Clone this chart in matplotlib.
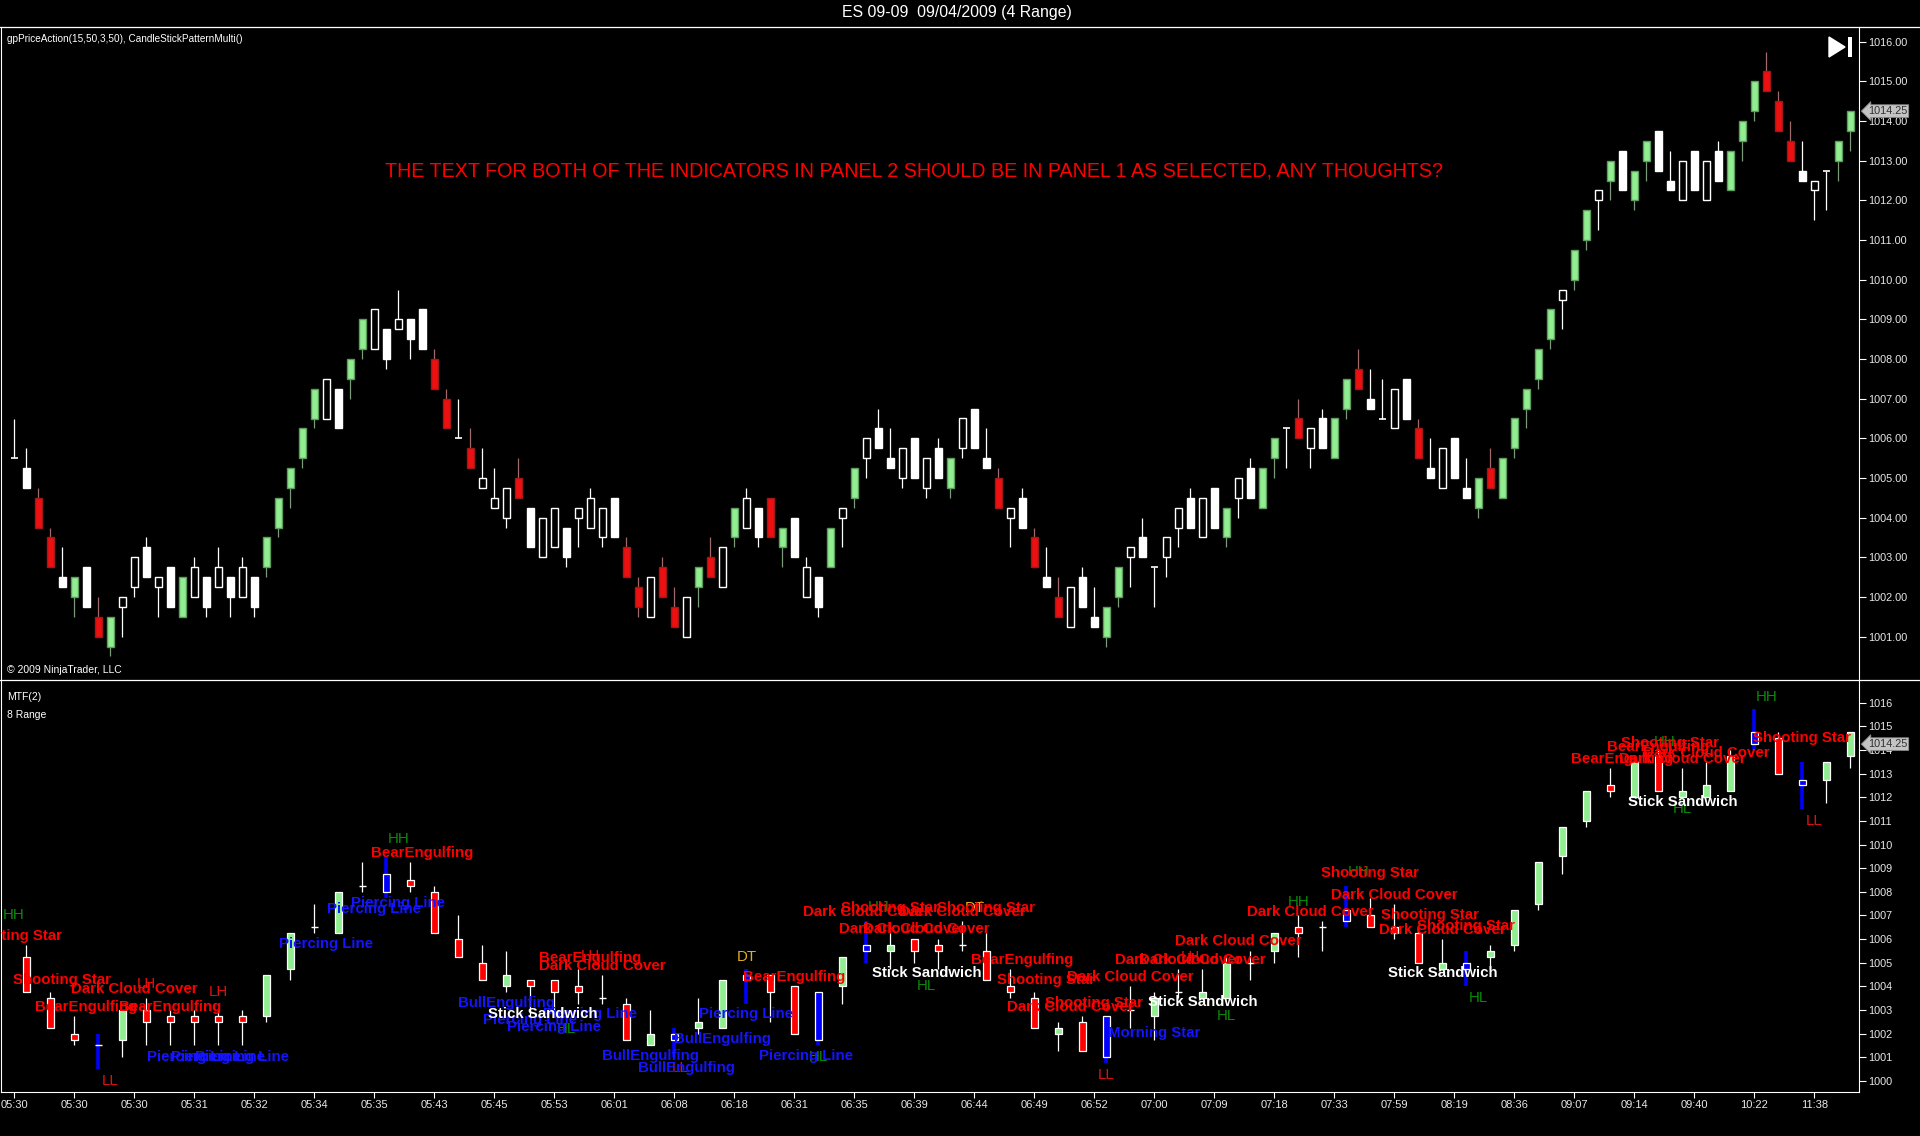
import matplotlib
matplotlib.use("Agg")
import matplotlib.pyplot as plt
from matplotlib.lines import Line2D
from matplotlib.patches import Polygon, Rectangle
from matplotlib.ticker import FormatStrFormatter

plt.rcParams['font.family'] = ['Liberation Sans', 'DejaVu Sans']

W, H, DPI = 1920, 1136, 100

# ---------------- panel 1 : 4 range bars ----------------
p1_open = [
    1005.5, 1005.25, 1004.5, 1003.5, 1002.5, 1002.0, 1002.75, 1001.5, 1000.75, 1001.75,
    1002.25, 1003.25, 1002.25, 1002.75, 1001.5, 1002.0, 1002.5, 1002.25, 1002.5, 1002.0,
    1002.5, 1002.75, 1003.75, 1004.75, 1005.5, 1006.5, 1006.5, 1007.25, 1007.5, 1008.25,
    1008.25, 1008.75, 1008.75, 1009.0, 1009.25, 1008.0, 1007.0, 1006.0, 1005.75, 1004.75,
    1004.25, 1004.0, 1005.0, 1004.25, 1003.0, 1003.25, 1003.75, 1004.0, 1003.75, 1003.5,
    1004.5, 1003.25, 1002.25, 1001.5, 1002.75, 1001.75, 1001.0, 1002.25, 1003.0, 1002.25,
    1003.5, 1003.75, 1004.25, 1004.5, 1003.25, 1004.0, 1002.0, 1002.5, 1002.75, 1004.0,
    1004.5, 1005.5, 1006.25, 1005.5, 1005.0, 1006.0, 1004.75, 1005.75, 1004.75, 1005.75,
    1006.75, 1005.5, 1005.0, 1004.0, 1004.5, 1003.5, 1002.5, 1002.0, 1001.25, 1002.5,
    1001.5, 1001.0, 1002.0, 1003.0, 1003.5, 1002.75, 1003.0, 1003.75, 1004.5, 1003.5,
    1004.75, 1003.5, 1004.5, 1005.25, 1004.25, 1005.5, 1006.25, 1006.5, 1005.75, 1006.5,
    1005.5, 1006.75, 1007.75, 1007.0, 1006.5, 1006.25, 1007.5, 1006.25, 1005.25, 1004.75,
    1006.0, 1004.75, 1004.25, 1005.25, 1004.5, 1005.75, 1006.75, 1007.5, 1008.5, 1009.5,
    1010.0, 1011.0, 1012.0, 1012.5, 1013.25, 1012.0, 1013.0, 1013.75, 1012.5, 1012.0,
    1013.25, 1012.0, 1013.25, 1012.25, 1013.5, 1014.25, 1015.25, 1014.5, 1013.5, 1012.75,
    1012.25, 1012.75, 1013.0, 1013.75]
p1_high = [
    1006.5, 1005.75, 1004.75, 1003.75, 1003.25, 1002.5, 1002.75, 1002.0, 1001.5, 1002.0,
    1003.0, 1003.5, 1002.5, 1002.75, 1002.5, 1003.0, 1002.5, 1003.25, 1002.5, 1003.0,
    1002.5, 1003.5, 1004.5, 1005.25, 1006.25, 1007.25, 1007.5, 1007.25, 1008.0, 1009.0,
    1009.25, 1008.75, 1009.75, 1009.0, 1009.25, 1008.25, 1007.25, 1007.0, 1006.25, 1005.75,
    1005.25, 1004.75, 1005.5, 1004.25, 1004.0, 1004.25, 1003.75, 1004.25, 1004.75, 1004.25,
    1004.5, 1003.5, 1002.5, 1002.5, 1003.0, 1002.25, 1002.0, 1002.75, 1003.5, 1003.25,
    1004.25, 1004.75, 1004.25, 1004.5, 1003.75, 1004.0, 1003.0, 1002.5, 1003.75, 1004.25,
    1005.25, 1006.0, 1006.75, 1006.25, 1005.75, 1006.0, 1005.5, 1006.0, 1005.5, 1006.5,
    1006.75, 1006.25, 1005.25, 1004.25, 1004.75, 1003.75, 1003.25, 1002.5, 1002.25, 1002.75,
    1002.25, 1001.75, 1002.75, 1003.25, 1004.0, 1002.75, 1003.5, 1004.25, 1004.75, 1004.5,
    1004.75, 1004.25, 1005.0, 1005.5, 1005.25, 1006.0, 1006.25, 1007.0, 1006.25, 1006.75,
    1006.5, 1007.5, 1008.25, 1007.75, 1007.5, 1007.25, 1007.5, 1006.5, 1006.0, 1005.75,
    1006.0, 1005.5, 1005.0, 1005.75, 1005.5, 1006.5, 1007.25, 1008.25, 1009.25, 1009.75,
    1010.75, 1011.75, 1012.25, 1013.0, 1013.25, 1012.75, 1013.5, 1013.75, 1013.25, 1013.0,
    1013.25, 1013.0, 1013.5, 1013.25, 1014.0, 1015.0, 1015.75, 1014.75, 1014.0, 1013.5,
    1012.5, 1012.75, 1013.5, 1014.25]
p1_low = [
    1005.5, 1004.75, 1003.75, 1002.75, 1002.25, 1001.5, 1001.75, 1001.0, 1000.5, 1001.0,
    1002.0, 1002.5, 1001.5, 1001.75, 1001.5, 1002.0, 1001.5, 1002.25, 1001.5, 1002.0,
    1001.5, 1002.5, 1003.5, 1004.25, 1005.25, 1006.25, 1006.5, 1006.25, 1007.0, 1008.0,
    1008.25, 1007.75, 1008.75, 1008.0, 1008.25, 1007.25, 1006.25, 1006.0, 1005.25, 1004.75,
    1004.25, 1003.75, 1004.5, 1003.25, 1003.0, 1003.25, 1002.75, 1003.25, 1003.75, 1003.25,
    1003.5, 1002.5, 1001.5, 1001.5, 1002.0, 1001.25, 1001.0, 1001.75, 1002.5, 1002.25,
    1003.25, 1003.75, 1003.25, 1003.5, 1002.75, 1003.0, 1002.0, 1001.5, 1002.75, 1003.25,
    1004.25, 1005.0, 1005.75, 1005.25, 1004.75, 1005.0, 1004.5, 1005.0, 1004.5, 1005.5,
    1005.75, 1005.25, 1004.25, 1003.25, 1003.75, 1002.75, 1002.25, 1001.5, 1001.25, 1001.75,
    1001.25, 1000.75, 1001.75, 1002.25, 1003.0, 1001.75, 1002.5, 1003.25, 1003.75, 1003.5,
    1003.75, 1003.25, 1004.0, 1004.5, 1004.25, 1005.0, 1005.25, 1006.0, 1005.25, 1005.75,
    1005.5, 1006.5, 1007.25, 1006.75, 1006.5, 1006.25, 1006.5, 1005.5, 1005.0, 1004.75,
    1005.0, 1004.5, 1004.0, 1004.75, 1004.5, 1005.5, 1006.25, 1007.25, 1008.25, 1008.75,
    1009.75, 1010.75, 1011.25, 1012.0, 1012.25, 1011.75, 1012.5, 1012.75, 1012.25, 1012.0,
    1012.25, 1012.0, 1012.5, 1012.25, 1013.0, 1014.0, 1014.75, 1013.75, 1013.0, 1012.5,
    1011.5, 1011.75, 1012.5, 1013.25]
p1_close = [
    1005.5, 1004.75, 1003.75, 1002.75, 1002.25, 1002.5, 1001.75, 1001.0, 1001.5, 1002.0,
    1003.0, 1002.5, 1002.5, 1001.75, 1002.5, 1002.75, 1001.75, 1002.75, 1002.0, 1002.75,
    1001.75, 1003.5, 1004.5, 1005.25, 1006.25, 1007.25, 1007.5, 1006.25, 1008.0, 1009.0,
    1009.25, 1008.0, 1009.0, 1008.5, 1008.25, 1007.25, 1006.25, 1006.0, 1005.25, 1005.0,
    1004.5, 1004.75, 1004.5, 1003.25, 1004.0, 1004.25, 1003.0, 1004.25, 1004.5, 1004.25,
    1003.5, 1002.5, 1001.75, 1002.5, 1002.0, 1001.25, 1002.0, 1002.75, 1002.5, 1003.25,
    1004.25, 1004.5, 1003.5, 1003.5, 1003.75, 1003.0, 1002.75, 1001.75, 1003.75, 1004.25,
    1005.25, 1006.0, 1005.75, 1005.25, 1005.75, 1005.0, 1005.5, 1005.0, 1005.5, 1006.5,
    1005.75, 1005.25, 1004.25, 1004.25, 1003.75, 1002.75, 1002.25, 1001.5, 1002.25, 1001.75,
    1001.25, 1001.75, 1002.75, 1003.25, 1003.0, 1002.75, 1003.5, 1004.25, 1003.75, 1004.5,
    1003.75, 1004.25, 1005.0, 1004.5, 1005.25, 1006.0, 1006.25, 1006.0, 1006.25, 1005.75,
    1006.5, 1007.5, 1007.25, 1006.75, 1006.5, 1007.25, 1006.5, 1005.5, 1005.0, 1005.75,
    1005.0, 1004.5, 1005.0, 1004.75, 1005.5, 1006.5, 1007.25, 1008.25, 1009.25, 1009.75,
    1010.75, 1011.75, 1012.25, 1013.0, 1012.25, 1012.75, 1013.5, 1012.75, 1012.25, 1013.0,
    1012.25, 1013.0, 1012.5, 1013.25, 1014.0, 1015.0, 1014.75, 1013.75, 1013.0, 1012.5,
    1012.5, 1012.75, 1013.5, 1014.25]
# g = green paint, r = red paint, w = plain (white) candle
p1_paint = ("wwrrwgwrgw" "wwwwgwwwww" "wgggggwwgg" "wwwwwrrwrw" "wwrwwwwwww"
            "wrrwrrwgrw" "gwwrgwwwgw" "gwwwwwwwgw" "wwrwwrwrww" "wggwwwwwww"
            "wgwwggwrww" "ggrwwwwrww" "wwgrgggggw" "ggwgwggwww" "wwwgggrrrw" "wwgg")

# ---------------- panel 2 : MTF 8 range bars (every other slot) ----------------
p2_slot = list(range(1, 154, 2))
p2_open = [
    1005.25, 1003.5, 1002.0, 1001.5, 1001.75, 1003.0, 1002.75, 1002.75, 1002.75, 1002.75,
    1002.75, 1004.75, 1006.5, 1006.25, 1008.25, 1008.0, 1008.5, 1008.0, 1006.0, 1005.0,
    1004.0, 1004.25, 1004.25, 1004.0, 1003.5, 1003.25, 1001.5, 1001.75, 1002.25, 1002.25,
    1004.25, 1004.5, 1004.0, 1003.75, 1004.0, 1005.5, 1005.5, 1006.0, 1005.75, 1005.75,
    1005.5, 1004.0, 1003.5, 1002.0, 1002.5, 1001.0, 1003.0, 1002.75, 1003.75, 1003.5,
    1003.5, 1005.0, 1005.5, 1006.5, 1006.5, 1006.75, 1007.0, 1006.5, 1006.25, 1004.75,
    1004.75, 1005.25, 1005.75, 1007.5, 1009.5, 1011.0, 1012.5, 1012.0, 1013.75, 1012.0,
    1012.0, 1012.25, 1014.25, 1014.5, 1012.5, 1012.75, 1013.75]
p2_high = [
    1005.75, 1003.75, 1002.75, 1002.0, 1003.0, 1003.5, 1003.0, 1003.0, 1003.0, 1003.0,
    1004.5, 1006.25, 1007.5, 1008.0, 1009.25, 1009.5, 1009.25, 1008.25, 1007.0, 1005.75,
    1005.5, 1004.25, 1004.25, 1004.75, 1004.5, 1003.5, 1003.0, 1002.25, 1003.5, 1004.25,
    1004.75, 1004.5, 1004.0, 1003.75, 1005.25, 1006.75, 1006.25, 1006.0, 1006.0, 1006.75,
    1006.25, 1004.75, 1003.75, 1002.5, 1002.75, 1002.75, 1004.0, 1003.75, 1004.75, 1004.75,
    1005.25, 1005.5, 1006.25, 1007.0, 1006.75, 1008.25, 1007.75, 1007.5, 1006.5, 1006.0,
    1005.5, 1005.75, 1007.25, 1009.25, 1010.75, 1012.25, 1013.25, 1013.75, 1014.0, 1013.25,
    1013.5, 1014.0, 1015.75, 1014.75, 1013.5, 1013.5, 1014.75]
p2_low = [
    1003.75, 1002.25, 1001.5, 1000.5, 1001.0, 1001.5, 1001.5, 1001.5, 1001.5, 1001.5,
    1002.5, 1004.25, 1006.25, 1006.25, 1008.0, 1007.75, 1008.0, 1006.25, 1005.25, 1004.25,
    1003.75, 1002.75, 1003.0, 1003.25, 1003.25, 1001.75, 1001.5, 1001.0, 1002.0, 1002.25,
    1003.25, 1002.5, 1002.0, 1001.5, 1003.25, 1005.0, 1004.75, 1005.0, 1004.75, 1005.5,
    1004.25, 1003.5, 1002.25, 1001.25, 1001.25, 1000.75, 1002.25, 1001.75, 1003.5, 1003.5,
    1003.5, 1004.25, 1005.0, 1005.25, 1005.5, 1006.5, 1006.5, 1006.0, 1005.0, 1004.75,
    1004.0, 1004.75, 1005.5, 1007.25, 1008.75, 1010.75, 1012.0, 1012.0, 1012.25, 1012.0,
    1012.0, 1012.25, 1014.0, 1013.0, 1011.5, 1011.75, 1013.25]
p2_close = [
    1003.75, 1002.25, 1001.75, 1001.5, 1003.0, 1002.5, 1002.5, 1002.5, 1002.5, 1002.5,
    1004.5, 1006.25, 1006.5, 1008.0, 1008.25, 1008.75, 1008.25, 1006.25, 1005.25, 1004.25,
    1004.5, 1004.0, 1003.75, 1003.75, 1003.5, 1001.75, 1002.0, 1002.0, 1002.5, 1004.25,
    1004.5, 1003.75, 1002.0, 1001.75, 1005.25, 1005.75, 1005.75, 1005.5, 1005.5, 1005.75,
    1004.25, 1003.75, 1002.25, 1002.25, 1001.25, 1002.75, 1003.0, 1003.5, 1003.75, 1003.75,
    1005.0, 1005.0, 1006.25, 1006.25, 1006.5, 1007.25, 1006.5, 1006.25, 1005.0, 1005.0,
    1005.0, 1005.5, 1007.25, 1009.25, 1010.75, 1012.25, 1012.25, 1013.5, 1012.25, 1012.25,
    1012.5, 1013.75, 1014.75, 1013.0, 1012.75, 1013.5, 1014.75]
# b = blue swing bar, w = doji
p2_paint = ("rrrbgrrrrr" "ggwgwbrrrr" "grrrwrgbgg" "brrbgbgrrw" "rrrgrbwgwg"
            "gwgrwbrrrg" "bgggggrgrg" "ggbrbgg")

time_labels = ["05:30", "05:30", "05:30", "05:31", "05:32", "05:34", "05:35", "05:43",
               "05:45", "05:53", "06:01", "06:08", "06:18", "06:31", "06:35", "06:39",
               "06:44", "06:49", "06:52", "07:00", "07:09", "07:18", "07:33", "07:59",
               "08:19", "08:36", "09:07", "09:14", "09:40", "10:22", "11:38"]
last_price = 1014.25

# swing point markers (slot, price, text)
swing_labels = [
    (-0.1, 1007.02, "HH"), (11, 1004.09, "LH"), (17, 1003.78, "LH"), (8, 1000.01, "LL"),
    (32, 1010.23, "HH"), (46, 1002.2, "HL"), (48, 1005.29, "LH"), (55.5, 1000.53, "LL"),
    (61, 1005.26, "DT"), (67, 1001.03, "HL"), (72, 1007.37, "HH"), (80, 1007.3, "DT"),
    (76, 1004.02, "HL"), (91, 1000.25, "LL"), (101, 1002.76, "HL"), (98, 1005.25, "LH"),
    (107, 1007.58, "HH"), (112, 1008.85, "HH"), (122, 1003.5, "HL"), (137.5, 1014.35, "HH"),
    (139, 1011.5, "HL"), (146, 1016.25, "HH"), (150, 1011.01, "LL")]

# candlestick pattern names (slot, price, text)
pattern_labels = [
    (-0.1, 1006.13, "Shooting Star"), (4, 1004.27, "Shooting Star"),
    (10, 1003.89, "Dark Cloud Cover"), (6, 1003.14, "BearEngulfing"),
    (13, 1003.14, "BearEngulfing"), (15, 1001.02, "Piercing Line"),
    (17, 1001.02, "Piercing Line"), (19, 1001.02, "Piercing Line"),
    (26, 1005.79, "Piercing Line"), (30, 1007.26, "Piercing Line"),
    (32, 1007.54, "Piercing Line"), (34, 1009.66, "BearEngulfing"),
    (41, 1003.31, "BullEngulfing"), (43, 1002.58, "Piercing Line"),
    (45, 1002.3, "Piercing Line"), (48, 1002.82, "Piercing Line"),
    (44, 1002.82, "Stick Sandwich"), (48, 1005.22, "BearEngulfing"),
    (49, 1004.88, "Dark Cloud Cover"), (53, 1001.07, "BullEngulfing"),
    (56, 1000.56, "BullEngulfing"), (59, 1001.78, "BullEngulfing"),
    (61, 1002.82, "Piercing Line"), (65, 1004.41, "BearEngulfing"),
    (66, 1001.07, "Piercing Line"), (71, 1007.16, "Dark Cloud Cover"),
    (79, 1007.16, "Dark Cloud Cover"), (73, 1007.3, "Shooting Star"),
    (81, 1007.3, "Shooting Star"), (74, 1006.41, "Dark Cloud Cover"),
    (76, 1006.41, "Dark Cloud Cover"), (76, 1004.55, "Stick Sandwich"),
    (84, 1005.12, "BearEngulfing"), (86, 1004.27, "Shooting Star"),
    (88, 1003.14, "Dark Cloud Cover"), (90, 1003.28, "Shooting Star"),
    (93, 1004.41, "Dark Cloud Cover"), (95, 1002.04, "Morning Star"),
    (99, 1003.33, "Stick Sandwich"), (97, 1005.12, "Dark Cloud Cover"),
    (99, 1005.12, "Dark Cloud Cover"), (102, 1005.9, "Dark Cloud Cover"),
    (108, 1007.15, "Dark Cloud Cover"), (113, 1008.78, "Shooting Star"),
    (115, 1007.87, "Dark Cloud Cover"), (118, 1007.02, "Shooting Star"),
    (119, 1006.39, "Dark Cloud Cover"), (121, 1006.56, "Shooting Star"),
    (119, 1004.55, "Stick Sandwich"), (134, 1013.62, "BearEngulfing"),
    (137, 1014.14, "BearEngulfing"), (138, 1014.28, "Shooting Star"),
    (139, 1013.62, "Dark Cloud Cover"), (141, 1013.89, "Dark Cloud Cover"),
    (139, 1011.81, "Stick Sandwich"), (149, 1014.49, "Shooting Star")]

RED, BLUE, GREEN = '#ff0000', '#1414ff', '#90ee90'
label_colors = {"Shooting Star": RED, "Dark Cloud Cover": RED, "BearEngulfing": RED,
                "Piercing Line": BLUE, "BullEngulfing": BLUE, "Morning Star": BLUE,
                "Stick Sandwich": 'white',
                "HH": '#0a8a0a', "HL": '#0a8a0a', "LH": '#e01010', "LL": '#e01010',
                "DT": '#e0b020'}


def px_box(left, top, right, bottom):
    return [left / W, 1 - bottom / H, (right - left) / W, (bottom - top) / H]


def draw_primary(ax, width=0.54):
    for x, (o, h, l, c, k) in enumerate(zip(p1_open, p1_high, p1_low, p1_close, p1_paint)):
        if k == 'g':
            fill, edge, wick = GREEN, '#5f9a5f', '#7a9a7a'
        elif k == 'r':
            fill, edge, wick = '#ee1010', '#a01818', '#a06a6a'
        else:
            fill = 'black' if c > o else 'white'
            edge, wick = 'white', 'white'
        ax.vlines(x, l, h, color=wick, lw=0.9, zorder=2)
        if o == c:
            ax.hlines(o, x - width / 2, x + width / 2, color='white', lw=1.2, zorder=3)
        else:
            ax.add_patch(Rectangle((x - width / 2, min(o, c)), width, abs(c - o),
                                   facecolor=fill, edgecolor=edge, lw=1.0, zorder=3))


def draw_mtf(ax, width=0.58):
    for x, o, h, l, c, k in zip(p2_slot, p2_open, p2_high, p2_low, p2_close, p2_paint):
        if k == 'b':
            ax.vlines(x, l, h, color='#0000ff', lw=2.6, zorder=2)
        else:
            ax.vlines(x, l, h, color='white', lw=0.9, zorder=2)
        if o == c:
            ax.hlines(o, x - width / 2, x + width / 2, color='white', lw=1.0, zorder=3)
            continue
        fill = {'g': GREEN, 'r': '#ff0000', 'b': '#0000ff'}.get(k, 'white')
        ax.add_patch(Rectangle((x - width / 2, min(o, c)), width, abs(c - o),
                               facecolor=fill, edgecolor='white', lw=0.9, zorder=3))


def style_axis(ax, ylo, yhi, yticks, fmt):
    ax.set_facecolor('black')
    ax.set_xlim(-1.125, 153.71)
    ax.set_ylim(ylo, yhi)
    for side in ('top', 'bottom'):
        ax.spines[side].set_visible(False)
    for side in ('left', 'right'):
        ax.spines[side].set_color('white')
        ax.spines[side].set_linewidth(0.8)
    ax.yaxis.tick_right()
    ax.set_yticks(yticks)
    ax.yaxis.set_major_formatter(FormatStrFormatter(fmt))
    ax.tick_params(axis='y', colors='white', labelcolor='#e8e8e8', labelsize=7.8,
                   length=5, width=0.8, pad=1.5)
    ax.annotate('%.2f' % last_price, xy=(1.0, last_price), xycoords=('axes fraction', 'data'),
                xytext=(9, 0), textcoords='offset pixels', ha='left', va='center',
                fontsize=7.8, color='#303030', annotation_clip=False, zorder=10,
                bbox=dict(boxstyle='larrow,pad=0.12', fc='#c4c4c4', ec='#8a8a8a', lw=0.6))


fig = plt.figure(figsize=(W / DPI, H / DPI), dpi=DPI, facecolor='black')
ax1 = fig.add_axes(px_box(1, 27, 1859, 679.5))
ax2 = fig.add_axes(px_box(1, 681, 1859, 1092))

style_axis(ax1, 999.92, 1016.37, range(1001, 1017), '%.2f')
style_axis(ax2, 999.53, 1016.92, range(1000, 1017), '%d')
ax1.set_xticks([])
ax2.spines['bottom'].set_visible(True)
ax2.spines['bottom'].set_color('white')
ax2.set_xticks(range(0, 5 * len(time_labels), 5))
ax2.set_xticklabels(time_labels)
ax2.tick_params(axis='x', colors='white', labelcolor='#e8e8e8', labelsize=8,
                length=4, width=0.8, pad=2)

draw_primary(ax1)
draw_mtf(ax2)

for x, y, s in swing_labels:
    ax2.text(x, y, s, color=label_colors[s], fontsize=10.8, ha='center', va='center',
             clip_on=True, zorder=5)
for x, y, s in pattern_labels:
    ax2.text(x, y, s, color=label_colors[s], fontsize=10.8, fontweight='bold',
             ha='center', va='center', clip_on=True, zorder=6)

# header, separators, captions
fig.text(957 / W, 1 - 13 / H, "ES 09-09  09/04/2009 (4 Range)", color='white',
         fontsize=11.4, ha='center', va='center')
for y in (27, 679.5):
    fig.add_artist(Line2D([0, 1], [1 - y / H] * 2, transform=fig.transFigure,
                          color='white', lw=0.9))
fig.text(7 / W, 1 - 39 / H, "gpPriceAction(15,50,3,50), CandleStickPatternMulti()",
         color='white', fontsize=7.2, ha='left', va='center')
fig.text(7 / W, 1 - 670 / H, "\u00a9 2009 NinjaTrader, LLC", color='white',
         fontsize=7.5, ha='left', va='center')
fig.text(7 / W, 1 - 697 / H, "MTF(2)", color='white', fontsize=7.5, ha='left', va='center')
fig.text(7 / W, 1 - 715 / H, "8 Range", color='white', fontsize=7.5, ha='left', va='center')
fig.text(914 / W, 1 - 171 / H,
         "THE TEXT FOR BOTH OF THE INDICATORS IN PANEL 2 SHOULD BE IN PANEL 1 AS SELECTED, ANY THOUGHTS?",
         color='#ff0000', fontsize=14.1, ha='center', va='center')

# scroll-to-end icon
fig.add_artist(Polygon([(1829 / W, 1 - 37 / H), (1829 / W, 1 - 57 / H), (1845 / W, 1 - 47 / H)],
                       closed=True, transform=fig.transFigure, facecolor='white', edgecolor='white'))
fig.add_artist(Rectangle((1848 / W, 1 - 57 / H), 3.5 / W, 20 / H, transform=fig.transFigure,
                         facecolor='white', edgecolor='none'))

fig.savefig("out.png", dpi=DPI, facecolor='black')
